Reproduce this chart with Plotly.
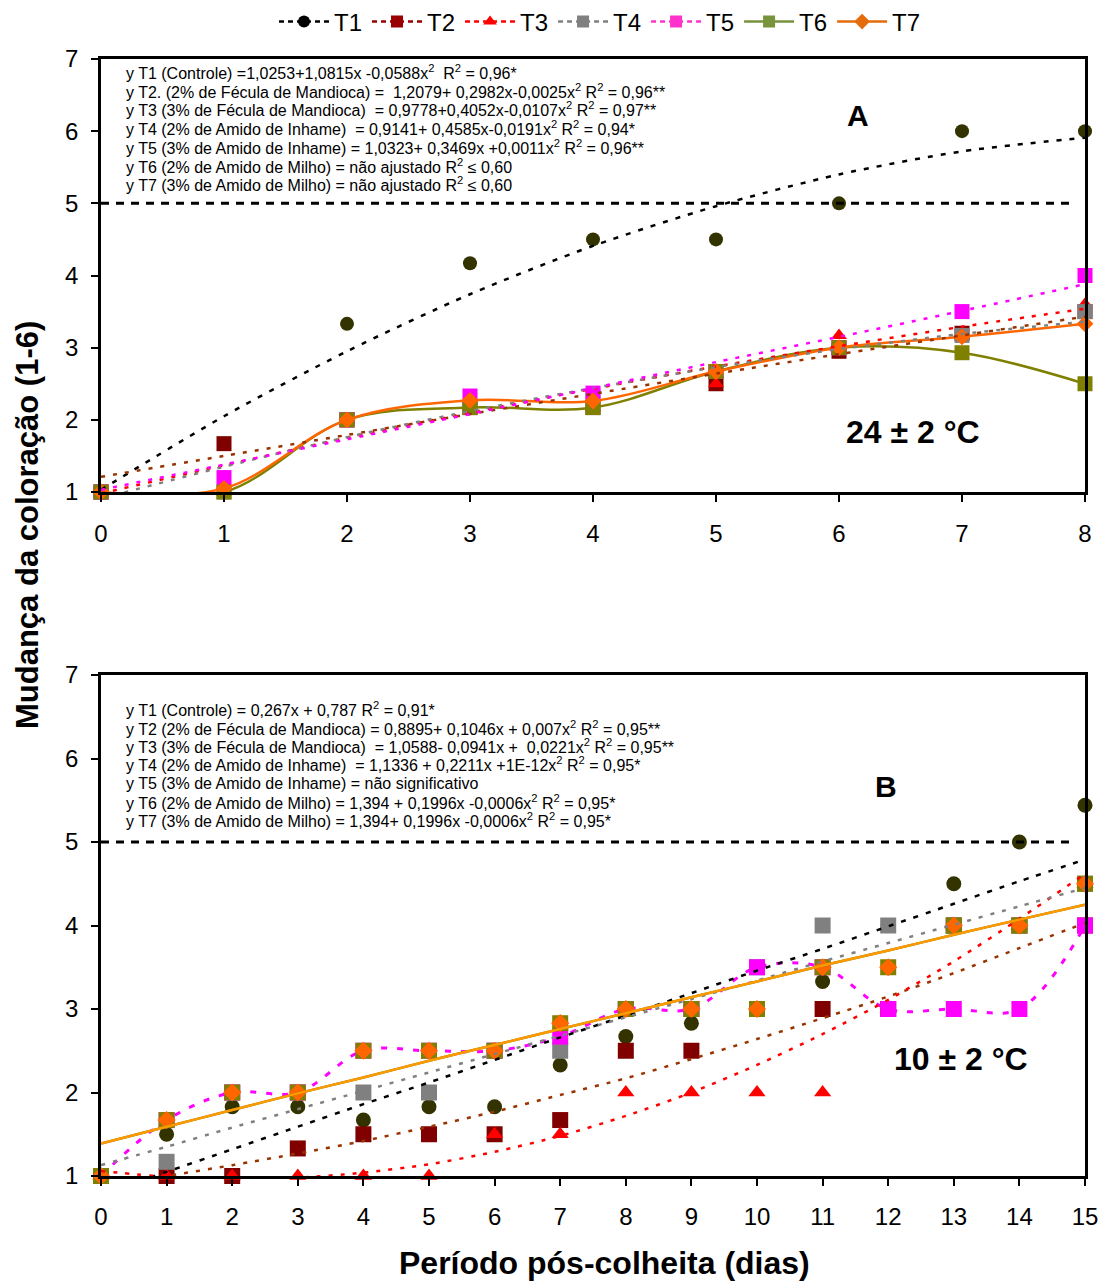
import plotly.graph_objects as go

# ---------------- DATA ----------------
labels = ["T1", "T2", "T3", "T4", "T5", "T6", "T7"]

days_A = [0, 1, 2, 3, 4, 5, 6, 7, 8]
A_T1 = [1, 1, 3.33, 4.17, 4.5, 4.5, 5, 6, 6]
A_T2 = [1, 1.67, 2, 2.17, 2.17, 2.5, 2.95, 3.2, 3.5]
A_T3 = [1, 1, 2, 2.17, 2.17, 2.5, 3.17, 3.17, 3.6]
A_T4 = [1, 1, 2, 2.17, 2.33, 2.67, 3, 3.17, 3.5]
A_T5 = [1, 1.2, 2, 2.33, 2.37, 2.67, 3, 3.5, 4]
A_T6 = [1, 1, 2, 2.17, 2.17, 2.67, 3, 2.93, 2.5]
A_T7 = [1, 1.05, 2, 2.27, 2.26, 2.67, 3, 3.15, 3.33]

# fitted trend curves read at each day (panel A)
trA_T1 = [1.03, 2.05, 2.95, 3.74, 4.41, 4.96, 5.40, 5.72, 5.91]
trA_T2 = [1.21, 1.50, 1.79, 2.08, 2.36, 2.64, 2.91, 3.17, 3.43]
trA_T3 = [0.98, 1.37, 1.75, 2.10, 2.43, 2.74, 3.02, 3.29, 3.54]
trA_T4 = [0.91, 1.35, 1.76, 2.12, 2.44, 2.73, 2.98, 3.19, 3.36]
trA_T5 = [1.03, 1.38, 1.73, 2.08, 2.44, 2.80, 3.15, 3.51, 3.88]

days_B = [0, 1, 2, 3, 4, 5, 6, 7, 8, 9, 10, 11, 12, 13, 14, 15]
B_T1 = [1, 1.5, 1.83, 1.83, 1.67, 1.83, 1.83, 2.33, 2.67, 2.83, 3.5, 3.33, 4, 4.5, 5, 5.44]
B_T2 = [1, 1, 1, 1.33, 1.5, 1.5, 1.5, 1.67, 2.5, 2.5, 3, 3, 3, 4, 4, 4]
B_T3 = [1, 1, 1, 1, 1, 1, 1.5, 1.5, 2, 2, 2, 2, 3, 4, 4, 4.5]
B_T4 = [1, 1.17, 2, 2, 2, 2, 2.5, 2.5, 3, 3, 3.5, 4, 4, 4, 4, 4.5]
B_T5 = [1, 1.67, 2, 2, 2.5, 2.5, 2.5, 2.67, 3, 3, 3.5, 3.5, 3, 3, 3, 4]
B_T6 = [1, 1.67, 2, 2, 2.5, 2.5, 2.5, 2.83, 3, 3, 3, 3.5, 3.5, 4, 4, 4.5]
B_T7 = [1, 1.67, 2, 2, 2.5, 2.5, 2.5, 2.83, 3, 3, 3, 3.5, 3.5, 4, 4, 4.5]

# fitted trend curves read at each day (panel B)
trB_T1 = [0.79, 1.05, 1.32, 1.59, 1.86, 2.12, 2.39, 2.66, 2.92, 3.19, 3.46, 3.72, 3.99, 4.26, 4.53, 4.79]
trB_T2 = [0.89, 1.00, 1.13, 1.27, 1.42, 1.59, 1.77, 1.97, 2.17, 2.40, 2.64, 2.89, 3.15, 3.43, 3.73, 4.03]
trB_T3 = [1.06, 0.99, 0.96, 0.98, 1.04, 1.14, 1.29, 1.48, 1.72, 2.00, 2.33, 2.70, 3.11, 3.57, 4.08, 4.62]
trB_T4 = [1.13, 1.35, 1.58, 1.80, 2.02, 2.24, 2.46, 2.68, 2.90, 3.12, 3.34, 3.57, 3.79, 4.01, 4.23, 4.45]
trB_T6 = [1.39, 1.59, 1.79, 1.99, 2.18, 2.38, 2.57, 2.76, 2.95, 3.14, 3.33, 3.52, 3.70, 3.89, 4.07, 4.25]
trB_T7 = [1.39, 1.59, 1.79, 1.99, 2.18, 2.38, 2.57, 2.76, 2.95, 3.14, 3.33, 3.52, 3.70, 3.89, 4.07, 4.25]

y_ticks = [1, 2, 3, 4, 5, 6, 7]
x_ticks_A = days_A
x_ticks_B = days_B
limit_value = 5

eq_A = [
    "y T1 (Controle) =1,0253+1,0815x -0,0588x<sup>2</sup>  R<sup>2</sup> = 0,96*",
    "y T2. (2% de Fécula de Mandioca) =  1,2079+ 0,2982x-0,0025x<sup>2</sup> R<sup>2</sup> = 0,96**",
    "y T3 (3% de Fécula de Mandioca)  = 0,9778+0,4052x-0,0107x<sup>2</sup> R<sup>2</sup> = 0,97**",
    "y T4 (2% de Amido de Inhame)  = 0,9141+ 0,4585x-0,0191x<sup>2</sup> R<sup>2</sup> = 0,94*",
    "y T5 (3% de Amido de Inhame) = 1,0323+ 0,3469x +0,0011x<sup>2</sup> R<sup>2</sup> = 0,96**",
    "y T6 (2% de Amido de Milho) = não ajustado R<sup>2</sup> ≤ 0,60",
    "y T7 (3% de Amido de Milho) = não ajustado R<sup>2</sup> ≤ 0,60",
]
eq_B = [
    "y T1 (Controle) = 0,267x + 0,787 R<sup>2</sup> = 0,91*",
    "y T2 (2% de Fécula de Mandioca) = 0,8895+ 0,1046x + 0,007x<sup>2</sup> R<sup>2</sup> = 0,95**",
    "y T3 (3% de Fécula de Mandioca)  = 1,0588- 0,0941x +  0,0221x<sup>2</sup> R<sup>2</sup> = 0,95**",
    "y T4 (2% de Amido de Inhame)  = 1,1336 + 0,2211x +1E-12x<sup>2</sup> R<sup>2</sup> = 0,95*",
    "y T5 (3% de Amido de Inhame) = não significativo",
    "y T6 (2% de Amido de Milho) = 1,394 + 0,1996x -0,0006x<sup>2</sup> R<sup>2</sup> = 0,95*",
    "y T7 (3% de Amido de Milho) = 1,394+ 0,1996x -0,0006x<sup>2</sup> R<sup>2</sup> = 0,95*",
]

# ---------------- STYLE ----------------
FONT = "Liberation Sans, Arial, sans-serif"
W, H = 1101, 1282
ML, MR, MT, MB = 101, 16, 59, 106
PH = H - MT - MB
PW = W - ML - MR


def py(p):  # pixel y -> paper
    return (H - MB - p) / PH


def px(p):  # pixel x -> paper
    return (p - ML) / PW


sym = {"T1": "circle", "T2": "square", "T3": "triangle-up", "T4": "square",
       "T5": "square", "T6": "square", "T7": "diamond"}
size = {"T1": 14, "T2": 15, "T3": 14, "T4": 15, "T5": 15, "T6": 15, "T7": 13}
mcol = {"T1": "#333300", "T2": "#800000", "T3": "#FF0000", "T4": "#808080",
        "T5": "#FF00FF", "T6": "#808000", "T7": "#FF6600"}
tcol = {"T1": "#000000", "T2": "#993300", "T3": "#FF0000", "T4": "#808080",
        "T5": "#FF00FF", "T6": "#808000", "T7": "#FF9900"}

fig = go.Figure()

# ---------- Panel A markers ----------
A_data = {"T1": A_T1, "T2": A_T2, "T3": A_T3, "T4": A_T4, "T5": A_T5, "T6": A_T6, "T7": A_T7}
for t in labels:
    smooth = t in ("T6", "T7")
    fig.add_trace(go.Scatter(
        x=days_A, y=A_data[t], xaxis="x", yaxis="y",
        mode="lines+markers" if smooth else "markers",
        line=dict(color=mcol[t], width=2.5, shape="spline", smoothing=1.0) if smooth else None,
        marker=dict(symbol=sym[t], size=size[t], color=mcol[t], line=dict(width=0)),
        cliponaxis=False, showlegend=False, hoverinfo="skip"))

# ---------- Panel A trend lines ----------
for t, tr in [("T1", trA_T1), ("T2", trA_T2), ("T3", trA_T3), ("T4", trA_T4), ("T5", trA_T5)]:
    fig.add_trace(go.Scatter(
        x=days_A, y=tr, xaxis="x", yaxis="y", mode="lines",
        line=dict(color=tcol[t], width=2.5, dash="5px,8px" if t == "T1" else "4px,8px",
                  shape="spline", smoothing=0.8),
        showlegend=False, hoverinfo="skip"))

# ---------- Panel B markers ----------
B_data = {"T1": B_T1, "T2": B_T2, "T3": B_T3, "T4": B_T4, "T5": B_T5, "T6": B_T6, "T7": B_T7}
for t in labels:
    smooth = t == "T5"
    fig.add_trace(go.Scatter(
        x=days_B, y=B_data[t], xaxis="x2", yaxis="y2",
        mode="lines+markers" if smooth else "markers",
        line=dict(color=mcol[t], width=3, dash="6px,10px", shape="spline", smoothing=1.0) if smooth else None,
        marker=dict(symbol=sym[t], size=size[t] + 1, color=mcol[t], line=dict(width=0)),
        cliponaxis=False, showlegend=False, hoverinfo="skip"))

# ---------- Panel B trend lines ----------
for t, tr in [("T1", trB_T1), ("T2", trB_T2), ("T3", trB_T3), ("T4", trB_T4),
              ("T6", trB_T6), ("T7", trB_T7)]:
    solid = t in ("T6", "T7")
    fig.add_trace(go.Scatter(
        x=days_B, y=tr, xaxis="x2", yaxis="y2", mode="lines",
        line=dict(color=tcol[t], width=2.5, dash="solid" if solid else ("5px,8px" if t == "T1" else "4px,8px"),
                  shape="spline", smoothing=0.8),
        showlegend=False, hoverinfo="skip"))

# ---------- Legend entries ----------
leg_line = {"T1": "#000000", "T2": "#990000", "T3": "#FF0000", "T4": "#808080",
            "T5": "#FF33CC", "T6": "#77933C", "T7": "#E46C0A"}
for t in labels:
    fig.add_trace(go.Scatter(
        x=[None], y=[None], xaxis="x", yaxis="y", mode="lines+markers", name=t,
        line=dict(color=leg_line[t], width=2.5, dash="solid" if t in ("T6", "T7") else "5px,4px"),
        marker=dict(symbol=sym[t], size=12, color=leg_line[t]),
        showlegend=True))

# ---------- reference lines at 5 ----------
for xa, ya in [("x", "y"), ("x2", "y2")]:
    fig.add_shape(type="line", xref=f"{xa} domain", yref=ya, x0=0, x1=0.99,
                  y0=limit_value, y1=limit_value,
                  line=dict(color="black", width=3, dash="8px,7px"), layer="above")

axis_common = dict(showline=True, linewidth=2.5, linecolor="black", mirror=True,
                   ticks="outside", ticklen=7, tickwidth=2, tickcolor="black",
                   showgrid=False, zeroline=False, automargin=False,
                   tickfont=dict(size=24, color="black", family=FONT))

fig.update_layout(
    width=W, height=H,
    margin=dict(l=ML, r=MR, t=MT, b=MB, pad=0, autoexpand=False),
    template="none",
    paper_bgcolor="white", plot_bgcolor="white",
    font=dict(family=FONT, color="black"),
    xaxis=dict(domain=[0, 1], range=[0, 8], tickvals=x_ticks_A, anchor="y",
               ticklabelstandoff=11, **axis_common),
    yaxis=dict(domain=[py(492), 1], range=[1, 7], tickvals=y_ticks, anchor="x",
               ticklabelstandoff=8, **axis_common),
    xaxis2=dict(domain=[0, 1], range=[0, 15], tickvals=x_ticks_B, anchor="y2",
                ticklabelstandoff=10, **axis_common),
    yaxis2=dict(domain=[0, py(675)], range=[1, 7], tickvals=y_ticks, anchor="x2",
                ticklabelstandoff=8, **axis_common),
    legend=dict(orientation="h", x=px(600), xanchor="center", y=py(22), yanchor="middle",
                font=dict(size=24, family=FONT, color="black"),
                bgcolor="rgba(0,0,0,0)", itemwidth=50, tracegroupgap=0),
    showlegend=True,
)

ann = []
for i, s in enumerate(eq_A):
    ann.append(dict(text=s, x=px(124), y=py(72 + i * 18.7), xref="paper", yref="paper",
                    xanchor="left", yanchor="middle", showarrow=False,
                    font=dict(size=16, family=FONT, color="black")))
for i, s in enumerate(eq_B):
    ann.append(dict(text=s, x=px(124), y=py(709 + i * 18.5), xref="paper", yref="paper",
                    xanchor="left", yanchor="middle", showarrow=False,
                    font=dict(size=16, family=FONT, color="black")))

big = [("<b>A</b>", 858, 115, 30), ("<b>24 ± 2 °C</b>", 913, 432, 32),
       ("<b>B</b>", 886, 786, 30), ("<b>10 ± 2 °C</b>", 961, 1059, 32)]
for s, x, y, fs in big:
    ann.append(dict(text=s, x=px(x), y=py(y), xref="paper", yref="paper",
                    xanchor="center", yanchor="middle", showarrow=False,
                    font=dict(size=fs, family=FONT, color="black")))

ann.append(dict(text="<b>Período pós-colheita (dias)</b>", x=px(604), y=py(1263),
                xref="paper", yref="paper", xanchor="center", yanchor="middle",
                showarrow=False, font=dict(size=32, family=FONT, color="black")))
ann.append(dict(text="<b>Mudança da coloração (1-6)</b>", x=px(27), y=py(525),
                xref="paper", yref="paper", xanchor="center", yanchor="middle",
                textangle=-90, showarrow=False, font=dict(size=31, family=FONT, color="black")))

fig.update_layout(annotations=ann)

fig.write_html("out.html")
